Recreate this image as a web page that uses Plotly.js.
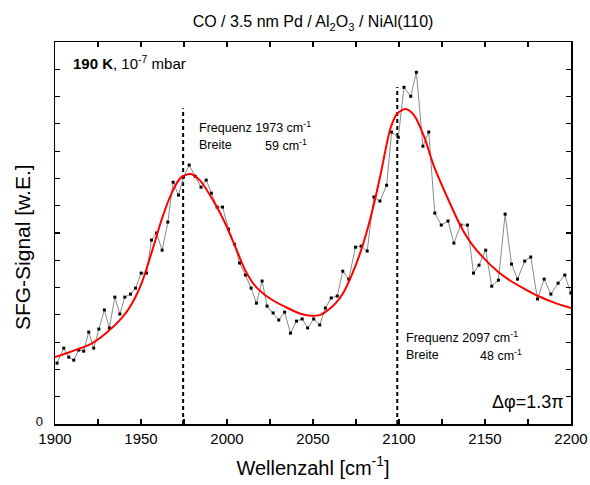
<!DOCTYPE html>
<html>
<head>
<meta charset="utf-8">
<script src="https://cdn.plot.ly/plotly-3.0.1.min.js"></script>
<style>
html,body{margin:0;padding:0;background:#fff;}
#chart{width:590px;height:485px;}
</style>
</head>
<body>
<div id="chart"></div>
<script>
// Measured SFG spectrum (points)
const wavenumber = [1901.2,1905.1,1908.0,1910.9,1913.8,1916.7,1919.6,1922.5,1925.5,1928.7,
  1931.6,1934.8,1937.7,1940.6,1943.9,1946.8,1950.1,1953.2,1956.1,1959.0,
  1962.3,1965.6,1968.7,1971.8,1974.7,1978.0,1981.5,1984.9,1987.9,1990.9,
  1994.2,1997.4,2000.9,2004.3,2007.3,2010.7,2014.0,2017.1,2020.4,2023.3,
  2026.8,2030.1,2033.5,2036.9,2040.4,2043.7,2046.9,2050.4,2053.9,2057.2,
  2060.6,2064.1,2067.3,2070.8,2074.7,2078.0,2081.5,2085.4,2088.9,2092.8,
  2095.7,2099.6,2102.9,2106.8,2110.1,2113.9,2117.3,2120.8,2124.6,2128.5,
  2131.9,2135.9,2139.8,2143.3,2146.5,2150.4,2153.9,2157.8,2161.7,2165.4,
  2168.9,2173.1,2176.6,2180.5,2184.4,2188.3,2192.5,2196.4,2199.9];
const signal = [2.23,2.78,2.45,2.34,2.71,2.67,3.37,2.78,3.48,4.18,
  3.52,4.65,4.03,4.65,4.76,4.98,5.53,5.53,6.74,7.00,
  6.37,7.40,8.86,8.39,9.05,9.49,9.08,8.68,8.94,8.46,
  7.95,7.95,7.14,6.59,5.90,5.46,4.98,4.43,5.24,4.32,
  4.07,3.81,4.10,3.33,3.77,3.85,3.52,3.85,3.63,4.25,
  4.62,4.69,5.60,5.31,6.48,6.52,6.34,8.32,8.17,8.75,
  10.70,10.51,12.34,12.01,12.89,10.18,10.70,7.73,7.29,7.44,
  6.63,7.29,7.29,5.53,5.82,6.37,5.05,5.27,7.69,5.86,
  5.31,5.97,6.12,4.58,5.31,4.76,5.16,5.46,4.80];

// Fitted curve
const fitX = [1900.0,1908.7,1920.4,1929.1,1939.0,1944.8,1950.7,1956.5,1962.3,1968.1,
  1973.0,1978.6,1984.4,1993.2,1999.0,2004.8,2010.7,2016.5,2022.3,2028.1,
  2033.9,2042.7,2048.5,2054.3,2058.2,2063.1,2067.9,2072.8,2077.6,2081.5,
  2085.4,2089.3,2095.1,2099.0,2103.8,2108.7,2114.5,2120.3,2128.1,2135.9,
  2142.0,2149.4,2157.2,2165.0,2172.7,2180.5,2190.2,2200.0];
const fitY = [2.45,2.64,2.92,3.30,3.90,4.42,5.22,6.35,7.55,8.50,
  9.02,9.16,8.92,8.05,7.35,6.50,5.62,5.05,4.72,4.48,
  4.29,4.04,3.97,4.00,4.15,4.42,4.84,5.50,6.30,7.10,
  8.05,9.15,10.85,11.38,11.54,11.32,10.55,9.45,8.30,7.25,
  6.62,6.07,5.60,5.24,4.96,4.70,4.45,4.25];

// Resonance markers (dashed lines)
const peakPos = [1974.5, 2099.0];
const peakTop = [11.57, 12.35];

// Axis ticks
const xTickVals = [1900,1925,1950,1975,2000,2025,2050,2075,2100,2125,2150,2175,2200];
const xTickText = ['1900','','1950','','2000','','2050','','2100','','2150','','2200'];
const yTickVals = [0,1,2,3,4,5,6,7,8,9,10,11,12,13,14];
const yTickText = ['0','','','','','','','','','','','','','',''];

const FONT = 'Liberation Sans, Arial, Helvetica, sans-serif';

const traces = [];
peakPos.forEach((p, i) => {
  traces.push({
    x: [p, p], y: [0, peakTop[i]], mode: 'lines', type: 'scatter',
    line: {color: '#000', width: 2, dash: '4px,3px'}, hoverinfo: 'skip', showlegend: false
  });
});
traces.push({
  x: wavenumber, y: signal, mode: 'lines+markers', type: 'scatter',
  line: {color: '#8a8a8a', width: 1},
  marker: {symbol: 'square', size: 3, color: '#000'},
  showlegend: false
});
traces.push({
  x: fitX, y: fitY, mode: 'lines', type: 'scatter',
  line: {color: '#ff0000', width: 2, shape: 'spline', smoothing: 0.8},
  showlegend: false
});

const ann = (x, y, text, size, anchor) => ({
  x: x, y: y, xref: 'x', yref: 'y', text: text, showarrow: false,
  xanchor: anchor || 'left', yanchor: 'middle',
  font: {family: FONT, size: size, color: '#000'}
});

const layout = {
  width: 590, height: 485,
  margin: {l: 55, r: 19, t: 42, b: 61},
  paper_bgcolor: '#fff', plot_bgcolor: '#fff',
  font: {family: FONT, color: '#000'},
  title: {
    text: 'CO / 3.5 nm Pd / Al<sub>2</sub>O<sub>3</sub> / NiAl(110)',
    font: {family: FONT, size: 16, color: '#000'},
    x: 0.5, xref: 'paper', xanchor: 'center', y: 0.955, yanchor: 'middle', yref: 'container'
  },
  xaxis: {
    range: [1900, 2200], tickmode: 'array', tickvals: xTickVals, ticktext: xTickText,
    ticks: 'inside', ticklen: 5, tickwidth: 1.2, tickcolor: '#000',
    showline: true, linecolor: '#000', linewidth: 1.5, mirror: 'ticks',
    showgrid: false, zeroline: false,
    tickfont: {family: FONT, size: 15, color: '#000'},
    title: {text: 'Wellenzahl [cm<sup>-1</sup>]', font: {family: FONT, size: 20, color: '#000'}, standoff: 15}
  },
  yaxis: {
    range: [0, 14], tickmode: 'array', tickvals: yTickVals, ticktext: yTickText,
    ticks: 'inside', ticklen: 5, tickwidth: 1.2, tickcolor: '#000',
    showline: true, linecolor: '#000', linewidth: 1.5, mirror: 'ticks',
    showgrid: false, zeroline: false,
    ticklabelstandoff: 8, ticklabelshift: -3,
    tickfont: {family: FONT, size: 13, color: '#000'}
  },
  annotations: [
    {x: -0.064, y: 0.463, xref: 'paper', yref: 'paper', text: 'SFG-Signal [w.E.]',
     textangle: -90, showarrow: false, xanchor: 'center', yanchor: 'middle',
     font: {family: FONT, size: 21, color: '#000'}},
    ann(1909.5, 13.25, '<b>190 K</b>, 10<sup>-7</sup> mbar', 15),
    ann(1982.7, 10.88, 'Frequenz 1973 cm<sup>-1</sup>', 12.5),
    ann(1982.7, 10.21, 'Breite', 12.5),
    ann(2021.0, 10.21, '59 cm<sup>-1</sup>', 12.5),
    ann(2103.0, 3.20, 'Frequenz 2097 cm<sup>-1</sup>', 12.5),
    ann(2103.0, 2.53, 'Breite', 12.5),
    ann(2146.2, 2.53, '48 cm<sup>-1</sup>', 12.5),
    ann(2197.0, 0.82, 'Δφ=1.3π', 18, 'right')
  ]
};

Plotly.newPlot('chart', traces, layout, {displayModeBar: false, staticPlot: true});
</script>
</body>
</html>
